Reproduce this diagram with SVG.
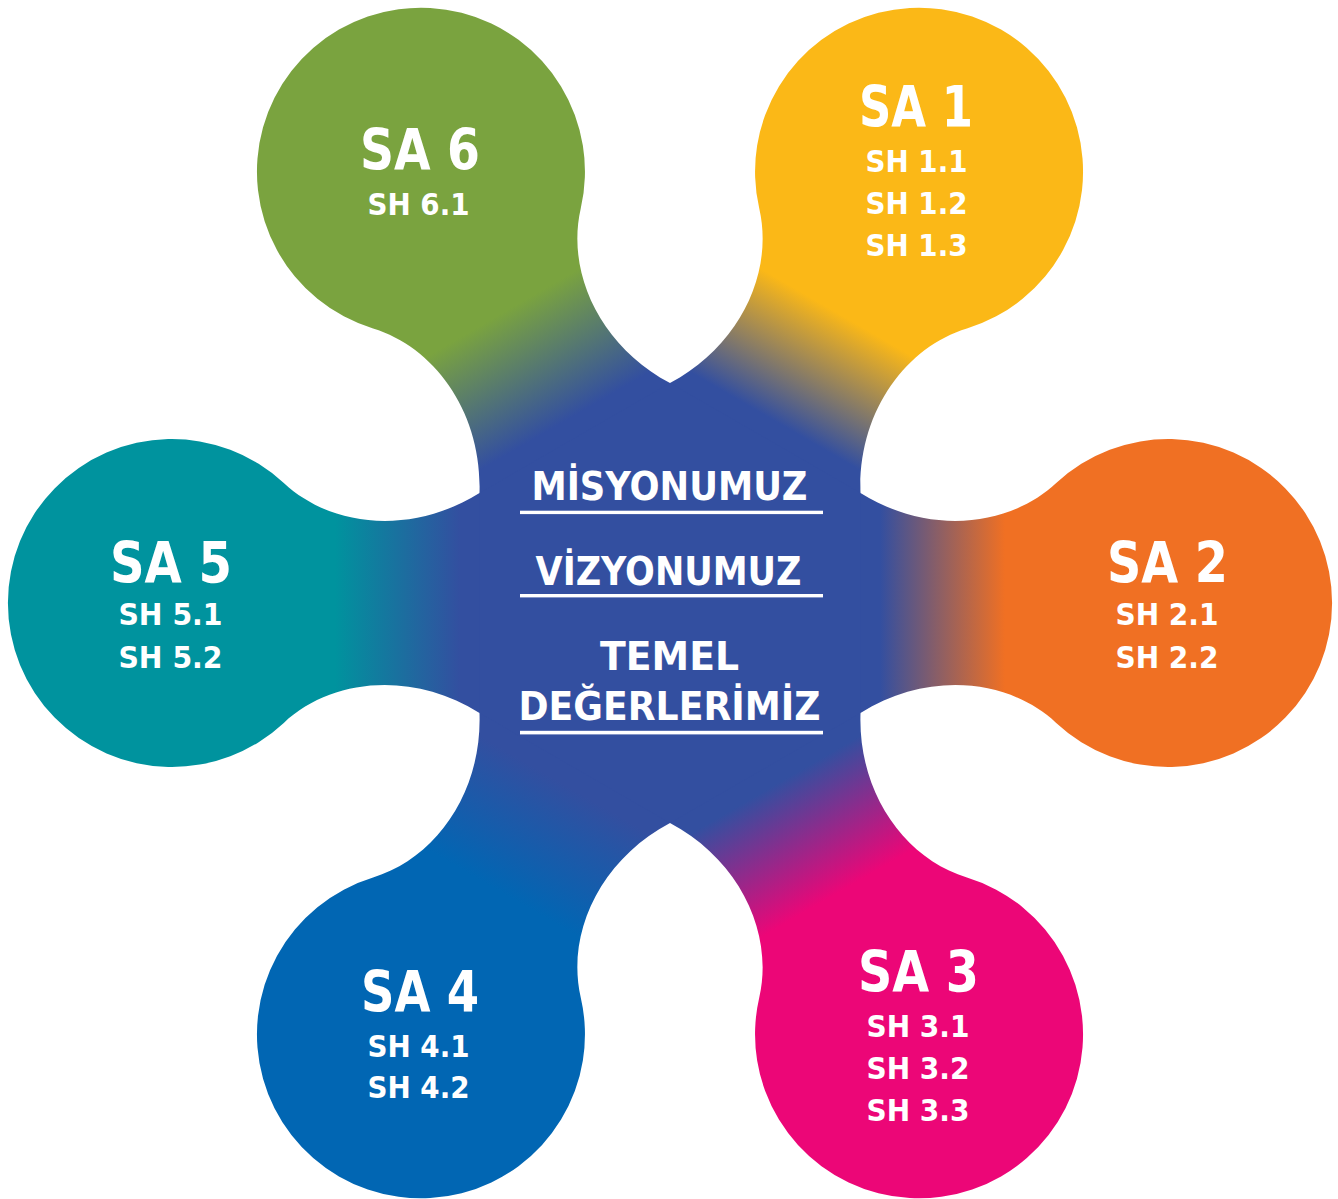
<svg xmlns="http://www.w3.org/2000/svg" width="1338" height="1199" viewBox="0 0 1338 1199">
<defs>
<style>
text{font-family:"DejaVu Sans Condensed","DejaVu Sans",sans-serif;font-weight:bold;fill:#fff;text-anchor:middle}
.sa{font-size:57px}
.sh{font-size:31px}
.c{font-size:39px}
.ul{fill:#fff}
</style>
<path id="petal" d="M0 0 L190.5 -110 C258.3 -67.6 338.7 -75.6 386.2 -119.9 A164 164 0 1 1 386.2 119.9 C338.7 75.6 258.3 67.6 190.5 110 Z"/>
<linearGradient id="gYellow" gradientUnits="userSpaceOnUse" x1="210" y1="0" x2="335" y2="0"><stop offset="0" stop-color="#334FA0"/><stop offset="1" stop-color="#FBB817"/></linearGradient>
<linearGradient id="gOrange" gradientUnits="userSpaceOnUse" x1="210" y1="0" x2="335" y2="0"><stop offset="0" stop-color="#334FA0"/><stop offset="1" stop-color="#F07023"/></linearGradient>
<linearGradient id="gMagenta" gradientUnits="userSpaceOnUse" x1="210" y1="0" x2="335" y2="0"><stop offset="0" stop-color="#334FA0"/><stop offset="1" stop-color="#EC0677"/></linearGradient>
<linearGradient id="gBlue" gradientUnits="userSpaceOnUse" x1="210" y1="0" x2="335" y2="0"><stop offset="0" stop-color="#334FA0"/><stop offset="1" stop-color="#0166B3"/></linearGradient>
<linearGradient id="gTeal" gradientUnits="userSpaceOnUse" x1="210" y1="0" x2="335" y2="0"><stop offset="0" stop-color="#334FA0"/><stop offset="1" stop-color="#00939E"/></linearGradient>
<linearGradient id="gGreen" gradientUnits="userSpaceOnUse" x1="210" y1="0" x2="335" y2="0"><stop offset="0" stop-color="#334FA0"/><stop offset="1" stop-color="#7AA33F"/></linearGradient>
</defs>
<rect width="1338" height="1199" fill="#fff"/>
<g id="connectors"/>
<g id="sa1">
<use href="#petal" fill="url(#gYellow)" transform="translate(670 603) rotate(300)"/>
<text class="sa" x="916" y="126.7" textLength="114" lengthAdjust="spacingAndGlyphs">SA 1</text>
<text class="sh" x="916.5" y="171.7" textLength="102" lengthAdjust="spacingAndGlyphs">SH 1.1</text>
<text class="sh" x="916.5" y="213.5" textLength="102" lengthAdjust="spacingAndGlyphs">SH 1.2</text>
<text class="sh" x="916.5" y="255.5" textLength="102" lengthAdjust="spacingAndGlyphs">SH 1.3</text>
</g>
<g id="sa2">
<use href="#petal" fill="url(#gOrange)" transform="translate(670 603) rotate(0)"/>
<text class="sa" x="1167.5" y="582.7" textLength="121" lengthAdjust="spacingAndGlyphs">SA 2</text>
<text class="sh" x="1167" y="625.3" textLength="103" lengthAdjust="spacingAndGlyphs">SH 2.1</text>
<text class="sh" x="1167" y="667.7" textLength="103" lengthAdjust="spacingAndGlyphs">SH 2.2</text>
</g>
<g id="sa3">
<use href="#petal" fill="url(#gMagenta)" transform="translate(670 603) rotate(60)"/>
<text class="sa" x="918.5" y="992" textLength="121" lengthAdjust="spacingAndGlyphs">SA 3</text>
<text class="sh" x="918" y="1036.5" textLength="103" lengthAdjust="spacingAndGlyphs">SH 3.1</text>
<text class="sh" x="918" y="1078.5" textLength="103" lengthAdjust="spacingAndGlyphs">SH 3.2</text>
<text class="sh" x="918" y="1120.5" textLength="103" lengthAdjust="spacingAndGlyphs">SH 3.3</text>
</g>
<g id="sa4">
<use href="#petal" fill="url(#gBlue)" transform="translate(670 603) rotate(120)"/>
<text class="sa" x="420" y="1011.5" textLength="118" lengthAdjust="spacingAndGlyphs">SA 4</text>
<text class="sh" x="418.5" y="1056.5" textLength="102" lengthAdjust="spacingAndGlyphs">SH 4.1</text>
<text class="sh" x="418.5" y="1098" textLength="102" lengthAdjust="spacingAndGlyphs">SH 4.2</text>
</g>
<g id="sa5">
<use href="#petal" fill="url(#gTeal)" transform="translate(670 603) rotate(180)"/>
<text class="sa" x="171" y="582.7" textLength="122" lengthAdjust="spacingAndGlyphs">SA 5</text>
<text class="sh" x="170.5" y="625.3" textLength="104" lengthAdjust="spacingAndGlyphs">SH 5.1</text>
<text class="sh" x="170.5" y="667.7" textLength="104" lengthAdjust="spacingAndGlyphs">SH 5.2</text>
</g>
<g id="sa6">
<use href="#petal" fill="url(#gGreen)" transform="translate(670 603) rotate(240)"/>
<text class="sa" x="420" y="170.3" textLength="120" lengthAdjust="spacingAndGlyphs">SA 6</text>
<text class="sh" x="418.5" y="215" textLength="102" lengthAdjust="spacingAndGlyphs">SH 6.1</text>
</g>
<g id="center">
<polygon points="670,383 860.5,493 860.5,713 670,823 479.5,713 479.5,493" fill="#334FA0"/>
<text class="c" x="669.5" y="500" textLength="276" lengthAdjust="spacingAndGlyphs">MİSYONUMUZ</text>
<rect class="ul" x="520" y="510.7" width="303" height="3.4"/>
<text class="c" x="668.5" y="585" textLength="266" lengthAdjust="spacingAndGlyphs">VİZYONUMUZ</text>
<rect class="ul" x="520" y="594" width="303" height="3.4"/>
<text class="c" x="669.5" y="670" textLength="139" lengthAdjust="spacingAndGlyphs">TEMEL</text>
<text class="c" x="669.5" y="720" textLength="302" lengthAdjust="spacingAndGlyphs">DEĞERLERİMİZ</text>
<rect class="ul" x="520" y="730.8" width="303" height="3.6"/>
</g>
</svg>
